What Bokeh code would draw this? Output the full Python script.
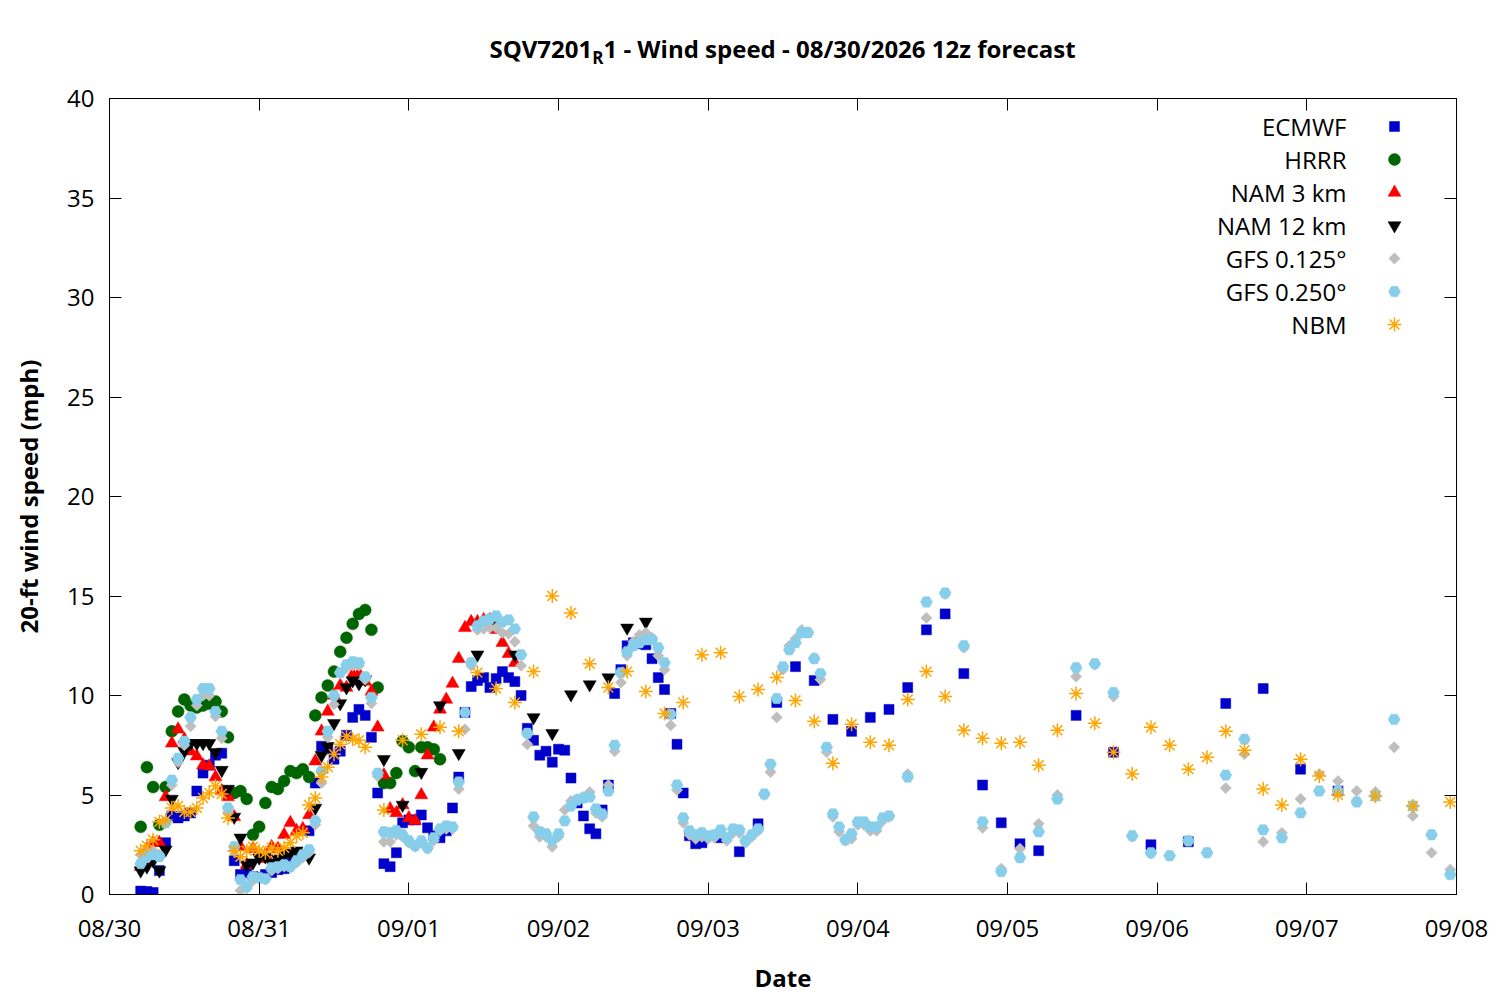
import math
import pandas as pd
from bokeh.plotting import figure
from bokeh.layouts import column, row
from bokeh.models import (Range1d, FixedTicker, DatetimeTickFormatter, LinearAxis,
                          DatetimeAxis, CustomJSTickFormatter, Label, Div, Spacer)
from bokeh.embed import file_html
from bokeh.resources import INLINE

FONT = "Open Sans"

# 12z run = 05:00 local, hours below are forecast hours from that
run_start = pd.Timestamp("2026-08-30 05:00")
x_start = pd.Timestamp("2026-08-30 00:00")
x_end = pd.Timestamp("2026-09-08 00:00")
y_ticks = [0, 5, 10, 15, 20, 25, 30, 35, 40]

ecmwf_hours = list(range(0, 91)) + list(range(93, 145, 3)) + list(range(150, 193, 6))
ecmwf_mph = [0.17, 0.15, 0.1, 1.2, 2.6, 3.95, 3.85, 3.95, 4.1, 5.2,
             6.1, 6.5, 7.0, 7.1, 5.2, 1.7, 1.0, 1.1, 0.9, 0.85,
             1.0, 1.1, 1.25, 1.3, 1.75, 1.9, 2.0, 3.2, 5.6, 7.45,
             7.3, 6.8, 7.2, 8.0, 8.9, 9.3, 9.0, 7.9, 5.1, 1.55,
             1.4, 2.1, 3.6, 3.75, 3.75, 4.0, 3.35, 2.95, 2.85, 3.2,
             4.35, 5.9, 9.15, 10.45, 10.75, 10.9, 10.4, 10.85, 11.2, 10.9,
             10.7, 10.0, 8.35, 7.75, 7.0, 7.2, 6.65, 7.3, 7.25, 5.85,
             4.6, 3.95, 3.3, 3.05, 4.25, 5.5, 10.1, 11.3, 12.5, 12.65,
             12.6, 12.55, 11.85, 10.9, 10.3, 9.1, 7.55, 5.1, 2.95, 2.55, 2.6,
             2.85, 2.15, 3.55, 9.65, 11.45, 10.75, 8.8, 8.2, 8.9, 9.3,
             10.4, 13.3, 14.1, 11.1, 5.5, 3.6, 2.55, 2.2,
             9.0, 7.15, 2.5, 2.65, 9.6, 10.35, 6.3, 5.2]

hrrr_hours = list(range(0, 49))
hrrr_mph = [3.4, 6.4, 5.4, 3.5, 5.4, 8.2, 9.2, 9.8, 9.5, 9.4,
            9.5, 9.6, 9.7, 9.2, 7.9, 5.1, 5.2, 4.8, 3.0, 3.4,
            4.6, 5.4, 5.3, 5.7, 6.2, 6.1, 6.3, 5.9, 9.0, 9.9,
            10.5, 11.2, 12.2, 12.9, 13.6, 14.1, 14.3, 13.3, 10.4, 5.6,
            5.6, 6.1, 7.7, 7.4, 6.2, 7.4, 7.4, 7.3, 6.8]

nam3_hours = list(range(0, 61))
nam3_mph = [1.4, 2.3, 2.6, 2.6, 4.9, 7.6, 8.3, 7.8, 7.2, 6.95,
            6.5, 6.45, 5.9, 5.2, 4.9, 3.9, 2.4, 1.5, 2.3, 1.8,
            2.0, 2.4, 2.3, 3.0, 3.6, 3.2, 3.3, 4.0, 6.7, 8.2,
            9.2, 10.0, 10.5, 10.4, 11.05, 11.1, 10.7, 10.2, 8.4, 6.0,
            4.3, 4.1, 4.5, 3.85, 3.7, 5.0, 7.0, 8.4, 9.3, 9.8,
            10.6, 11.85, 13.4, 13.7, 13.7, 13.8, 13.8, 13.3, 12.65, 12.1, 11.65]

nam12_hours = list(range(0, 37)) + list(range(39, 82, 3))
nam12_mph = [1.2, 1.4, 1.7, 1.2, 2.25, 4.8, 6.65, 7.2, 7.6, 7.6,
             7.6, 7.6, 7.15, 6.25, 5.3, 3.9, 2.85, 1.5, 1.6, 1.85,
             1.9, 1.6, 1.8, 2.0, 2.1, 2.2, 2.0, 1.85, 4.35, 7.0,
             7.45, 8.6, 9.6, 10.4, 10.75, 10.6, 10.8,
             6.8, 4.5, 6.15, 9.5, 7.1, 12.05, 13.5, 12.05, 8.9, 8.1,
             10.05, 10.55, 10.9, 13.4, 13.7]

gfs_hours = list(range(0, 121)) + list(range(123, 211, 3))
gfs0125_mph = [2.0, 2.1, 2.2, 2.0, 3.6, 5.5, 6.65, 7.5, 8.45, 9.5,
               10.0, 10.0, 8.95, 7.85, 4.1, 2.2, 0.2, 0.3, 0.7, 0.8,
               0.75, 1.2, 1.3, 1.4, 1.35, 1.6, 1.85, 2.1, 3.5, 5.6,
               7.9, 9.55, 11.1, 11.4, 11.5, 11.5, 10.8, 9.6, 5.95, 2.65,
               2.65, 3.0, 2.9, 2.6, 2.4, 2.6, 2.3, 2.7, 3.2, 3.3,
               3.3, 5.3, 8.3, 11.5, 13.3, 13.35, 13.4, 13.4, 13.15, 13.1,
               12.7, 11.5, 7.55, 3.45, 2.9, 2.9, 2.4, 2.9, 4.25, 4.7,
               4.8, 4.9, 5.15, 4.1, 3.9, 5.5, 7.2, 10.65, 12.0, 12.7,
               13.05, 13.15, 12.9, 12.0, 11.3, 8.5, 5.25, 3.6, 3.0, 2.8,
               2.9, 2.8, 2.85, 3.1, 2.7, 3.1, 3.1, 2.6, 2.9, 3.2,
               5.0, 6.15, 8.9, 11.3, 12.5, 12.85, 13.3, 13.2, 11.9, 10.8,
               7.15, 3.9, 3.15, 2.7, 2.8, 3.5, 3.5, 3.2, 3.2, 3.7, 3.9,
               6.05, 13.9, 15.1, 12.4, 3.35, 1.3, 2.3, 3.55, 5.0, 10.95,
               11.55, 9.95, 2.9, 2.05, 1.95, 2.7, 2.1, 5.35, 7.05, 2.65,
               3.1, 4.8, 6.05, 5.7, 5.2, 5.15, 7.4, 3.95, 2.1, 1.25]
gfs0250_mph = [1.55, 1.9, 2.0, 1.9, 3.6, 5.75, 6.85, 7.7, 8.9, 9.8,
               10.35, 10.35, 9.2, 8.2, 4.35, 2.4, 0.75, 0.4, 0.9, 0.85,
               0.8, 1.35, 1.4, 1.5, 1.4, 1.7, 2.0, 2.25, 3.7, 6.2,
               8.2, 10.0, 11.15, 11.55, 11.7, 11.65, 10.95, 9.9, 6.1, 3.15,
               3.1, 3.2, 3.0, 2.7, 2.45, 2.7, 2.35, 2.85, 3.3, 3.45,
               3.4, 5.65, 9.15, 11.65, 13.5, 13.75, 13.85, 14.0, 13.7, 13.8,
               13.35, 12.05, 8.1, 3.9, 3.15, 3.05, 2.7, 3.05, 3.7, 4.45,
               4.75, 4.85, 4.9, 4.3, 4.05, 5.2, 7.5, 11.15, 12.2, 12.5,
               12.65, 12.8, 12.8, 12.4, 11.65, 9.05, 5.5, 3.85, 3.2, 3.0,
               3.1, 2.95, 3.0, 3.25, 2.85, 3.3, 3.25, 2.7, 3.0, 3.3,
               5.05, 6.55, 9.85, 11.45, 12.3, 12.65, 13.15, 13.15, 11.85, 11.1,
               7.4, 4.05, 3.4, 2.75, 3.05, 3.65, 3.65, 3.4, 3.4, 3.85, 3.95,
               5.9, 14.7, 15.15, 12.5, 3.65, 1.15, 1.85, 3.15, 4.8, 11.4,
               11.6, 10.15, 2.95, 2.1, 1.95, 2.7, 2.1, 6.0, 7.8, 3.25,
               2.85, 4.1, 5.2, 5.2, 4.65, 4.95, 8.8, 4.45, 3.0, 1.0]

nbm_hours = list(range(0, 37)) + list(range(39, 193, 3)) + list(range(198, 211, 6))
nbm_mph = [2.2, 2.45, 2.75, 3.65, 3.75, 4.35, 4.45, 4.15, 4.15, 4.35,
           4.85, 5.1, 5.45, 5.05, 3.85, 2.2, 1.9, 2.2, 2.4, 2.2,
           2.1, 2.35, 2.2, 2.35, 2.6, 2.95, 3.1, 4.5, 4.85, 5.9,
           6.4, 7.05, 7.55, 7.95, 7.8, 7.75, 7.4,
           4.25, 7.75, 8.05, 8.4, 8.2, 11.15, 10.35, 9.65, 11.2, 15.0,
           14.15, 11.6, 10.4, 11.2, 10.2, 9.1, 9.65, 12.05, 12.15, 9.95,
           10.3, 10.9, 9.75, 8.7, 6.6, 8.55, 7.65, 7.5, 9.8, 11.2,
           9.95, 8.25, 7.85, 7.6, 7.65, 6.5, 8.25, 10.1, 8.6, 7.15,
           6.05, 8.4, 7.5, 6.3, 6.9, 8.2, 7.25, 5.3, 4.5, 6.8,
           5.95, 5.0,
           4.95, 4.45, 4.65]

# name, hours, values, marker, colour, size, angle
series = [
    ("ECMWF", ecmwf_hours, ecmwf_mph, "square", "#0000cc", 10, 0),
    ("HRRR", hrrr_hours, hrrr_mph, "circle", "#006400", 12, 0),
    ("NAM 3 km", nam3_hours, nam3_mph, "triangle", "#ff0000", 13, 0),
    ("NAM 12 km", nam12_hours, nam12_mph, "inverted_triangle", "#000000", 13, 0),
    ("GFS 0.125°", gfs_hours, gfs0125_mph, "square", "#bebebe", 8, math.pi / 4),
    ("GFS 0.250°", gfs_hours, gfs0250_mph, "hex", "#87ceeb", 12, 0),
    ("NBM", nbm_hours, nbm_mph, "asterisk", "#ffa500", 14, 0),
]

FRAME_W, FRAME_H = 1347, 796
LEFT, TOP = 109, 98
TITLE_H = 70


def px_to_time(px):
    return (x_start + (x_end - x_start) * (px / FRAME_W)).value / 1e6


def px_to_mph(py):
    return y_ticks[-1] - (y_ticks[-1] - y_ticks[0]) * py / FRAME_H


p = figure(x_axis_type="datetime", frame_width=FRAME_W, frame_height=FRAME_H,
           x_range=Range1d(x_start, x_end), y_range=Range1d(0, 40),
           min_border_left=LEFT, min_border_top=TOP - TITLE_H, min_border_right=35,
           min_border_bottom=90, toolbar_location=None, output_backend="svg",
           background_fill_color="white", border_fill_color="white")
p.grid.grid_line_color = None
p.outline_line_color = "black"

xax = p.xaxis[0]
yax = p.yaxis[0]

day_ticks = [(x_start + pd.Timedelta(days=d)).value / 1e6 for d in range(10)]

xax.ticker = FixedTicker(ticks=day_ticks)
xax.formatter = DatetimeTickFormatter(days="%m/%d", hours="%m/%d", months="%m/%d")
yax.ticker = FixedTicker(ticks=y_ticks)
xax.axis_label = "Date"
yax.axis_label = "20-ft wind speed (mph)"

# mirrored ticks on top and right, no labels
top = DatetimeAxis(ticker=FixedTicker(ticks=day_ticks),
                   formatter=CustomJSTickFormatter(code="return ''"),
                   major_label_text_font_size="0px", major_label_standoff=0)
right = LinearAxis(ticker=FixedTicker(ticks=y_ticks),
                   formatter=CustomJSTickFormatter(code="return ''"),
                   major_label_text_font_size="0px", major_label_standoff=0)
p.add_layout(top, "above")
p.add_layout(right, "right")

for ax in [xax, yax, top, right]:
    ax.major_tick_in = 12
    ax.major_tick_out = 0
    ax.minor_tick_line_color = None
    ax.axis_line_color = "black"
    ax.major_tick_line_color = "black"
    ax.major_label_text_font = FONT
    ax.major_label_text_color = "black"
    ax.axis_label_text_font = FONT
    ax.axis_label_text_font_size = "24px"
    ax.axis_label_text_font_style = "bold"
    ax.axis_label_text_color = "black"

for ax in [xax, yax]:
    ax.major_label_text_font_size = "24px"

xax.major_label_standoff = 16
xax.axis_label_standoff = 14
yax.major_label_standoff = 15
yax.axis_label_standoff = 19

for name, hours, vals, marker, color, size, angle in series:
    t = run_start + pd.to_timedelta(hours, unit="h")
    if marker == "asterisk":
        p.scatter(t, vals, marker=marker, size=size, line_color=color, line_width=1.5)
    else:
        p.scatter(t, vals, marker=marker, size=size, angle=angle,
                  fill_color=color, line_color=color, line_width=0.5)

# key in the upper right, text right-aligned with the symbol after it
for i, (name, hours, vals, marker, color, size, angle) in enumerate(series):
    ly = px_to_mph(28 + 33 * i)
    p.add_layout(Label(x=px_to_time(1237), y=ly, text=name, text_align="right",
                       text_baseline="middle", text_font=FONT, text_font_size="24px",
                       text_color="black"))
    if marker == "asterisk":
        p.scatter([px_to_time(1285)], [ly], marker=marker, size=size,
                  line_color=color, line_width=1.5)
    else:
        p.scatter([px_to_time(1285)], [ly], marker=marker, size=size, angle=angle,
                  fill_color=color, line_color=color, line_width=0.5)

# title with subscript R, centred over the plot frame
title = Div(
    text=(f'<div style="width:{FRAME_W}px;margin-top:32px;text-align:center;'
          'font-family:\'Open Sans\';font-size:24px;font-weight:bold;color:black;'
          'white-space:nowrap">'
          'SQV7201<sub style="font-size:17px">R</sub>1 - Wind speed - '
          '08/30/2026 12z forecast</div>'),
    width=FRAME_W, height=TITLE_H, margin=0)

layout = column(row(Spacer(width=LEFT, height=TITLE_H, margin=0), title), p)

open("out.html", "w").write(file_html(layout, INLINE))
